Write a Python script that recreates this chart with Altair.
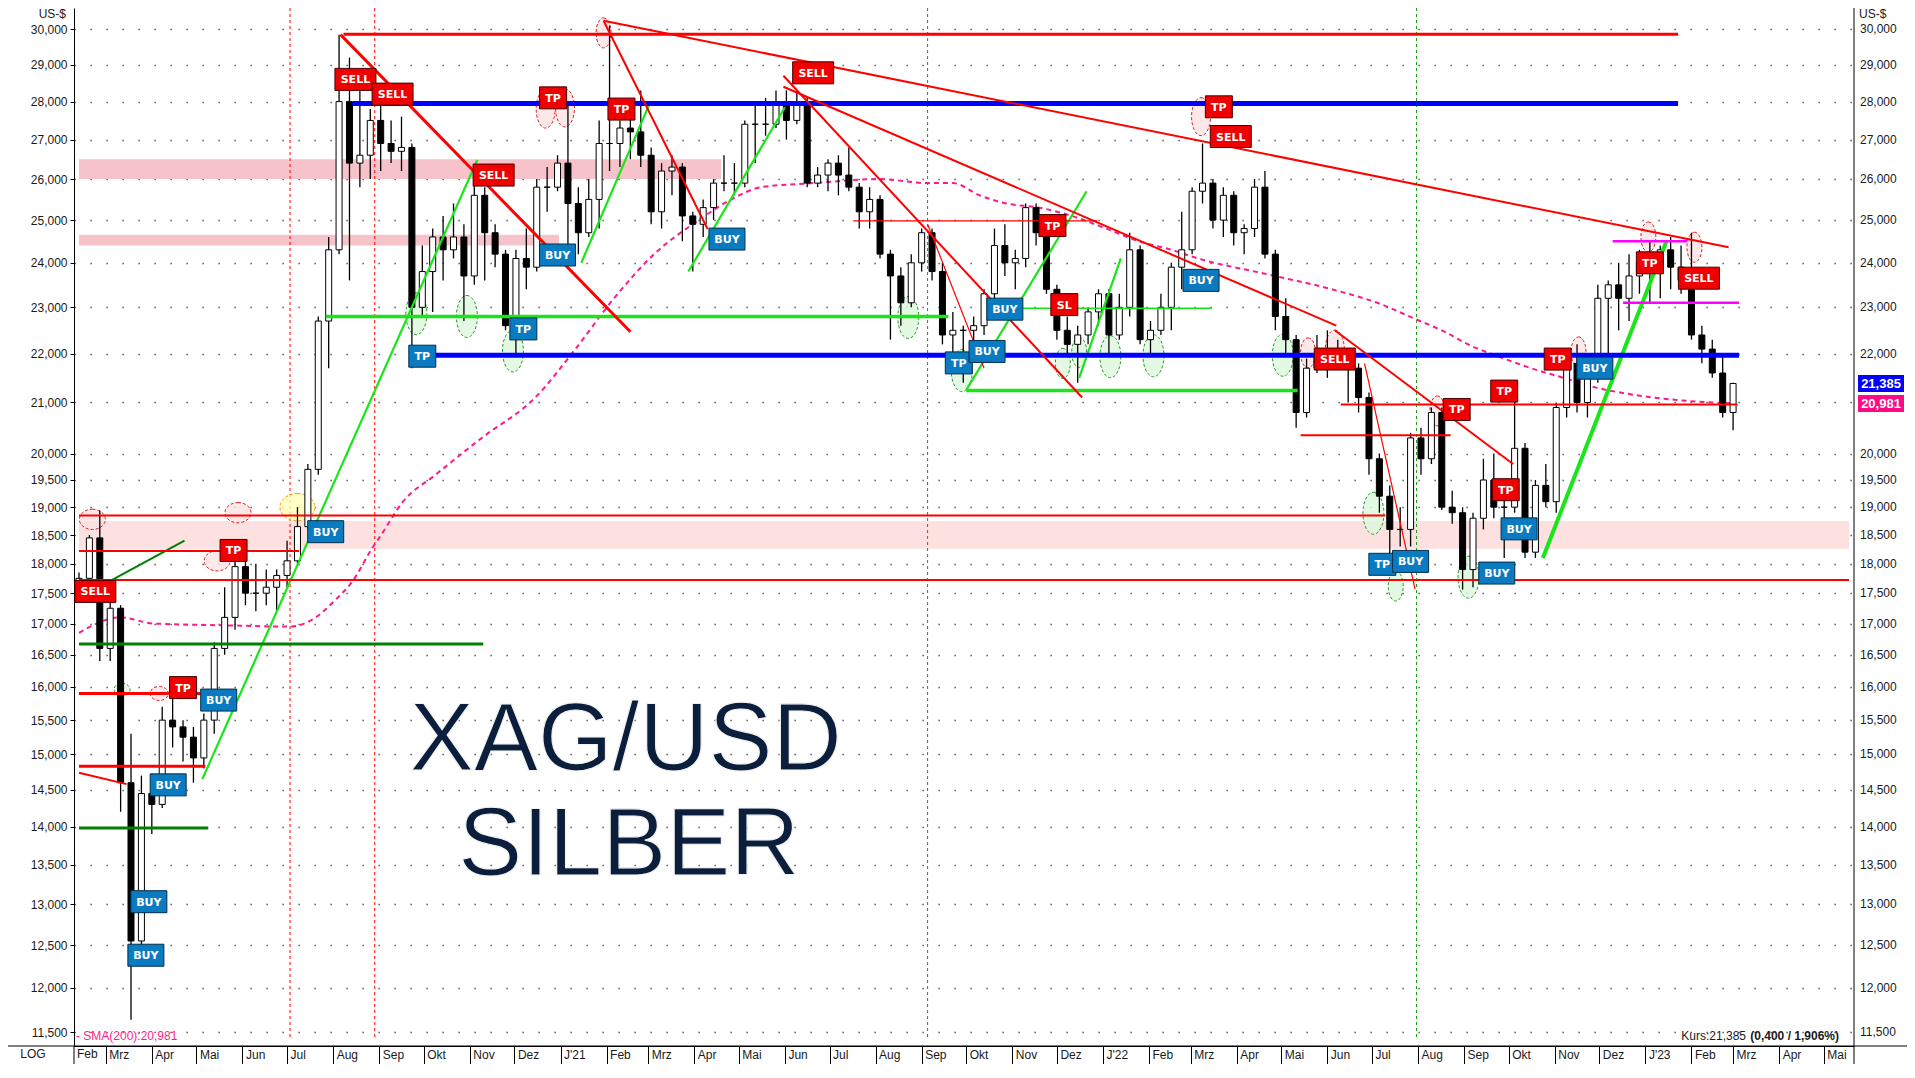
import altair as alt
import pandas as pd

W, H = 1780, 1038
FONT = "Liberation Sans"

# ------------------------------------------------------------------ price data (weekly)
week_start = "2020-02-12"
first_open = 17.60
close = [
    17.75, 18.45, 16.60,
    17.25, 14.60, 12.55, 14.45,
    14.30, 15.50, 15.40, 15.25,
    14.95, 15.50, 16.60, 17.10, 17.95,
    17.50, 17.50, 17.60, 17.80,
    18.05, 18.65, 19.70, 22.70, 24.30,
    28.00, 26.40, 26.60, 27.50,
    26.90, 26.70, 26.80, 23.00,
    23.80, 24.60, 24.30, 24.60, 23.70,
    25.60, 24.70, 24.20, 22.60,
    24.10, 23.90, 25.80, 25.80,
    26.40,
    25.40, 24.70, 25.50, 26.90,
    26.90, 27.30, 27.20, 26.60,
    25.20, 26.20, 26.30, 25.10,
    24.90, 25.30, 25.90, 25.90, 25.90,
    27.40, 27.40, 27.40, 27.90,
    27.50, 28.00, 25.90, 26.10,
    26.40, 26.10, 25.80, 25.20, 25.50,
    24.20, 23.70, 23.10, 24.00,
    24.70, 23.80, 22.40, 22.50,
    22.50, 22.60, 23.30, 24.40, 24.00,
    24.10, 25.30, 24.70, 23.40,
    22.50, 22.20, 22.40, 22.90, 23.30,
    22.40, 23.00, 24.30, 22.30,
    22.50, 23.00, 23.90, 24.30,
    25.70, 25.90, 25.00, 25.60,
    24.70, 24.80, 25.80, 24.20, 22.80,
    22.30, 20.80, 21.70, 22.00,
    22.10, 21.80, 21.70, 21.10,
    19.90, 19.20, 18.60, 18.60, 20.30,
    19.90, 20.80, 19.00, 18.90,
    17.90, 18.80, 19.50, 19.00, 19.00,
    20.10, 18.20, 19.40, 19.10,
    20.90, 21.80, 21.00, 21.50,
    23.20, 23.50, 23.20, 23.70, 24.00,
    23.80, 24.30, 23.90, 23.60,
    22.40, 22.10, 21.60, 20.80,
    21.385,
]
high = [
    17.85, 18.50, 18.94,
    17.45, 17.30, 15.30, 14.70,
    14.60, 15.70, 16.00, 15.50,
    15.40, 15.60, 16.70, 17.60, 18.10,
    18.35, 18.00, 17.90, 17.90,
    18.40, 19.00, 19.80, 22.80, 24.60,
    29.85, 29.20, 28.30, 27.80,
    28.00, 27.50, 27.60, 26.90,
    24.40, 24.80, 25.10, 25.40, 24.90,
    25.90, 25.80, 24.90, 24.30,
    24.30, 24.80, 26.00, 26.30,
    26.60,
    27.90, 25.80, 26.00, 27.50,
    30.10, 27.50, 28.00, 28.30,
    26.80, 26.40, 26.60, 26.40,
    25.20, 25.50, 26.00, 26.60, 26.40,
    27.50, 28.00, 28.10, 28.30,
    28.30, 28.30, 28.10, 26.30,
    26.50, 26.60, 26.80, 25.90, 25.80,
    25.60, 24.30, 23.90, 24.20,
    24.80, 24.80, 24.00, 22.90,
    22.60, 22.80, 23.40, 24.80, 24.90,
    24.30, 25.40, 25.40, 25.00,
    23.50, 22.80, 22.60, 23.00, 23.40,
    23.40, 23.30, 24.70, 24.40,
    22.70, 23.30, 24.00, 25.20,
    25.80, 26.90, 26.00, 25.80,
    25.70, 24.90, 26.00, 26.20, 24.30,
    23.20, 22.40, 21.90, 22.40,
    22.50, 22.30, 22.00, 21.80,
    21.20, 20.00, 19.40, 19.00, 20.40,
    20.50, 20.90, 20.90, 19.30,
    19.00, 18.90, 19.90, 20.00, 19.30,
    21.20, 20.20, 19.50, 19.80,
    21.00, 22.00, 22.20, 21.60,
    23.50, 23.60, 24.00, 24.20, 24.30,
    24.50, 24.40, 24.60, 24.40,
    24.70, 22.60, 22.30, 22.00,
    21.40,
]
low = [
    17.40, 17.70, 16.40,
    16.40, 14.20, 11.64, 12.50,
    13.90, 14.25, 15.10, 14.90,
    14.60, 14.80, 15.30, 16.50, 16.90,
    17.30, 17.20, 17.30, 17.20,
    17.60, 18.00, 18.60, 19.60, 21.70,
    24.20, 23.60, 25.80, 26.00,
    26.20, 26.40, 26.20, 21.70,
    22.80, 22.90, 23.60, 24.10, 22.70,
    23.50, 23.60, 23.90, 22.50,
    22.00, 23.40, 23.80, 25.20,
    25.70,
    24.40, 24.20, 24.60, 24.80,
    26.20, 26.30, 26.50, 26.30,
    24.90, 24.80, 25.60, 24.50,
    23.80, 24.60, 25.00, 25.70, 25.60,
    25.80, 26.40, 27.10, 27.30,
    27.00, 27.40, 25.80, 25.80,
    25.70, 25.60, 25.70, 24.80, 24.80,
    24.10, 22.30, 22.60, 23.00,
    23.80, 23.60, 22.20, 22.00,
    21.40, 22.20, 22.40, 23.10, 23.70,
    23.40, 23.90, 24.40, 23.30,
    22.30, 22.00, 21.40, 22.20, 22.60,
    22.00, 22.30, 22.80, 22.20,
    22.00, 22.40, 22.50, 23.40,
    24.20, 25.40, 24.80, 24.60,
    24.40, 24.20, 24.60, 24.10, 22.50,
    22.00, 20.50, 20.70, 21.60,
    21.50, 21.70, 21.00, 20.80,
    19.60, 18.90, 18.15, 18.30, 18.30,
    19.60, 19.80, 18.95, 18.70,
    17.56, 17.60, 18.60, 18.80, 18.10,
    18.90, 18.10, 18.10, 19.00,
    18.90, 20.70, 20.80, 20.70,
    21.40, 22.00, 22.50, 22.70, 23.30,
    23.10, 23.20, 23.40, 23.30,
    22.30, 21.80, 21.50, 20.70,
    20.45,
]

# 200-day moving average
sma_dates = ["2020-02-12", "2020-03-11", "2020-04-02", "2020-05-21", "2020-07-03", "2020-07-17",
             "2020-08-03", "2020-08-14", "2020-08-28", "2020-09-01", "2020-09-17", "2020-10-09",
             "2020-11-09", "2020-12-15", "2021-01-11", "2021-02-06", "2021-03-05", "2021-04-04",
             "2021-04-26", "2021-05-16", "2021-06-20", "2021-08-04", "2021-09-05", "2021-09-22",
             "2021-10-10", "2021-10-28", "2021-11-19", "2021-12-11", "2022-01-03", "2022-01-25",
             "2022-02-16", "2022-03-06", "2022-04-20", "2022-06-04", "2022-07-07", "2022-07-29",
             "2022-08-20", "2022-09-01", "2022-09-28", "2022-10-16", "2022-11-07", "2022-11-29",
             "2022-12-21", "2023-01-22", "2023-03-03"]
sma_values = [16.85, 17.10, 17.00, 16.97, 16.95, 17.05, 17.40, 17.70, 18.30, 18.45, 19.10, 19.60,
              20.30, 21.10, 22.10, 23.20, 24.20, 25.00, 25.50, 25.80, 25.90, 26.00, 25.90, 25.90,
              25.60, 25.40, 25.30, 25.10, 24.80, 24.50, 24.30, 24.10, 23.75, 23.40, 23.07, 22.76,
              22.45, 22.24, 21.90, 21.70, 21.50, 21.30, 21.17, 21.05, 20.98]

# drawn trend / support lines: (start, price, end, price, style)
segments = [
    ("2020-02-12", 18.85, "2022-07-10", 18.85, "red2"),
    ("2020-02-12", 18.22, "2020-07-09", 18.22, "red2"),
    ("2020-02-12", 17.72, "2023-05-18", 17.72, "red2"),
    ("2020-02-12", 16.67, "2020-11-10", 16.67, "dgreen3"),
    ("2020-02-12", 13.98, "2020-05-09", 13.98, "dgreen3"),
    ("2020-03-05", 17.72, "2020-04-23", 18.40, "dgreen2"),
    ("2020-05-05", 14.65, "2020-11-06", 26.48, "lime2"),
    ("2020-07-27", 22.80, "2021-09-19", 22.80, "lime3"),
    ("2021-01-15", 24.00, "2021-03-02", 27.95, "lime2"),
    ("2021-03-28", 23.80, "2021-06-01", 27.85, "lime2"),
    ("2021-11-01", 22.98, "2022-03-15", 22.98, "lime1"),
    ("2021-10-01", 21.24, "2022-05-12", 21.24, "lime3"),
    ("2021-10-01", 21.25, "2021-12-21", 25.70, "lime2"),
    ("2021-12-16", 21.50, "2022-01-13", 24.10, "lime2"),
    ("2022-10-24", 18.10, "2023-01-15", 24.49, "lime4"),
    ("2020-08-14", 27.95, "2023-01-23", 27.95, "blue5"),
    ("2020-09-30", 21.97, "2023-03-05", 21.97, "blue5"),
    ("2020-08-08", 29.86, "2023-01-23", 29.86, "red3"),
    ("2020-08-06", 29.85, "2021-02-17", 22.47, "red3"),
    ("2020-02-12", 15.90, "2020-05-19", 15.90, "red3"),
    ("2020-02-12", 14.83, "2020-05-07", 14.83, "red3"),
    ("2020-02-12", 14.74, "2020-03-15", 14.58, "red2"),
    ("2021-01-30", 30.25, "2021-04-10", 24.79, "red2"),
    ("2021-01-30", 30.25, "2023-02-26", 24.36, "red2"),
    ("2021-05-31", 28.70, "2021-12-18", 21.10, "red2"),
    ("2021-05-31", 28.40, "2022-06-07", 22.60, "red2"),
    ("2021-09-05", 24.90, "2021-10-13", 21.70, "red1"),
    ("2021-07-17", 24.98, "2021-12-28", 24.98, "red1"),
    ("2022-06-06", 22.50, "2022-10-04", 19.80, "red2"),
    ("2022-06-26", 21.80, "2022-07-30", 17.57, "red1"),
    ("2022-06-10", 20.96, "2023-03-04", 20.96, "red2"),
    ("2022-05-14", 20.35, "2022-08-23", 20.35, "red2"),
    ("2022-12-10", 24.50, "2023-01-29", 24.50, "mag"),
    ("2022-12-17", 23.10, "2023-03-05", 23.10, "mag"),
]

# shaded zones: (from, to, low price, high price, kind)
bands = [
    ("2020-02-12", "2021-04-19", 26.00, 26.50, "pink"),
    ("2020-02-12", "2020-12-31", 24.40, 24.65, "pink"),
    ("2020-02-12", "2023-05-18", 18.26, 18.75, "light"),
]

# dotted vertical markers
vlines = [("2020-07-03", "r"), ("2020-08-29", "r"), ("2021-09-05", "g"), ("2022-07-31", "g")]

# circled highs / lows: (date, price, kind)
ellipses = [
    ("2020-02-21", 18.78, "hiR"), ("2020-04-06", 15.90, "hiR2"), ("2020-05-15", 18.05, "hiR"),
    ("2020-05-29", 18.90, "hiR"), ("2020-07-08", 19.00, "yel"), ("2020-12-22", 27.80, "hiT"),
    ("2021-01-04", 27.83, "hiT"), ("2021-01-30", 29.90, "hiS"), ("2022-03-08", 27.60, "hiT"),
    ("2022-05-19", 22.02, "hiS"), ("2022-06-06", 22.10, "hiT"), ("2022-08-14", 20.83, "hiS"),
    ("2022-11-17", 22.04, "hiS"), ("2023-01-03", 24.60, "hiS"), ("2023-02-03", 24.36, "hiS"),
    ("2020-03-12", 15.96, "loR"), ("2020-09-26", 22.86, "loT"), ("2020-10-30", 22.80, "loT"),
    ("2020-11-30", 22.06, "loT"), ("2021-08-23", 22.78, "loT"), ("2021-09-28", 21.65, "loT"),
    ("2021-12-05", 21.80, "loS"), ("2021-12-16", 22.03, "loS"), ("2022-01-06", 21.94, "loT"),
    ("2022-02-04", 21.96, "loT"), ("2022-05-02", 21.97, "loT"), ("2022-07-02", 18.89, "loT"),
    ("2022-07-17", 17.62, "loS"), ("2022-09-04", 17.77, "loT"),
]

# signal boxes: (date, price, text, colour group)
labels = [
    ("2020-02-23", 17.53, "SELL", "r"), ("2020-04-22", 15.99, "TP", "r"),
    ("2020-05-16", 15.80, "BUY", "b"), ("2020-04-12", 14.57, "BUY", "b"),
    ("2020-03-30", 13.03, "BUY", "b"), ("2020-03-28", 12.38, "BUY", "b"),
    ("2020-05-26", 18.23, "TP", "r"), ("2020-07-27", 18.56, "BUY", "b"),
    ("2020-08-16", 28.60, "SELL", "r"), ("2020-09-10", 28.20, "SELL", "r"),
    ("2020-09-30", 21.95, "TP", "b"), ("2020-12-07", 22.53, "TP", "b"),
    ("2020-11-17", 26.10, "SELL", "r"), ("2020-12-30", 24.18, "BUY", "b"),
    ("2020-12-27", 28.10, "TP", "r"), ("2021-02-11", 27.80, "TP", "r"),
    ("2021-04-23", 24.55, "BUY", "b"), ("2021-06-20", 28.78, "SELL", "r"),
    ("2021-09-26", 21.81, "TP", "b"), ("2021-10-15", 22.05, "BUY", "b"),
    ("2021-10-27", 22.96, "BUY", "b"), ("2021-11-28", 24.87, "TP", "r"),
    ("2021-12-06", 23.06, "SL", "r"), ("2022-03-08", 23.60, "BUY", "b"),
    ("2022-03-20", 27.86, "TP", "r"), ("2022-03-28", 27.08, "SELL", "r"),
    ("2022-06-06", 21.89, "SELL", "r"), ("2022-08-27", 20.86, "TP", "r"),
    ("2022-09-28", 21.23, "TP", "r"), ("2022-09-29", 19.32, "TP", "r"),
    ("2022-07-08", 17.99, "TP", "b"), ("2022-07-27", 18.04, "BUY", "b"),
    ("2022-10-08", 18.61, "BUY", "b"), ("2022-09-23", 17.84, "BUY", "b"),
    ("2022-11-03", 21.89, "TP", "r"), ("2022-11-28", 21.70, "BUY", "b"),
    ("2023-01-04", 24.00, "TP", "r"), ("2023-02-06", 23.65, "SELL", "r"),
]

# last values shown on the right axis
last_values = [("21,385", 21.385, "blue"), ("20,981", 20.981, "pink")]

# big title
big_text = [("XAG/USD", "2021-02-14", 14.78), ("SILBER", "2021-02-16", 13.37)]

yticks = [11.5, 12, 12.5, 13, 13.5, 14, 14.5, 15, 15.5, 16, 16.5, 17, 17.5, 18, 18.5, 19, 19.5,
          20, 21, 22, 23, 24, 25, 26, 27, 28, 29, 30]
# right-hand labels (21,000 sits under the last-value box there)
yticks_right = [v for v in yticks if v != 21]
month_ticks = pd.date_range("2020-03-01", "2023-05-01", freq="MS")

# ------------------------------------------------------------------ tables
dates = pd.date_range(week_start, periods=len(close), freq="7D").strftime("%Y-%m-%d")
opens = [first_open] + close[:-1]
price_df = pd.DataFrame({"date": dates, "open": opens, "high": high, "low": low, "close": close})
sma_df = pd.DataFrame({"date": sma_dates, "sma": sma_values})
seg_df = pd.DataFrame(segments, columns=["d1", "p1", "d2", "p2", "style"])
band_df = pd.DataFrame(bands, columns=["d1", "d2", "lo", "hi", "kind"])
vline_df = pd.DataFrame(vlines, columns=["d", "kind"])
ell_df = pd.DataFrame(ellipses, columns=["d", "p", "kind"])
lab_df = pd.DataFrame(labels, columns=["d", "p", "txt", "grp"])
last_df = pd.DataFrame(last_values, columns=["txt", "p", "kind"])
big_df = pd.DataFrame(big_text, columns=["txt", "d", "p"])
ytick_df = pd.DataFrame({"v": yticks_right})
one = pd.DataFrame({"k": [0]})

# ------------------------------------------------------------------ scales / axes
xdomain = [alt.DateTime(year=2020, month=2, date=12, utc=True),
           alt.DateTime(year=2023, month=5, date=18, utc=True)]
xscale = alt.Scale(type="utc", domain=xdomain)
yscale = alt.Scale(type="log", domain=[11.351, 30.62], nice=False)

MONTH_EXPR = ("utcmonth(datum.value) == 0 ? \"J'\" + utcFormat(datum.value, '%y') : "
              "['Jan','Feb','Mrz','Apr','Mai','Jun','Jul','Aug','Sep','Okt','Nov','Dez'][utcmonth(datum.value)]")
PRICE_EXPR = "replace(format(datum.value, '.3f'), '.', ',')"

xaxis = alt.Axis(
    values=[alt.DateTime(year=d.year, month=d.month, date=1, utc=True) for d in month_ticks],
    labelExpr=MONTH_EXPR, tickSize=18, tickColor="#000", tickWidth=1, domainColor="#000",
    labelAlign="left", labelBaseline="top", labelPadding=-15, labelOffset=3, labelFontSize=12,
    labelFont=FONT, labelColor="#1a1a1a", labelOverlap=False, labelFlush=False, grid=False, title=None)
yaxis = alt.Axis(
    values=yticks, labelExpr=PRICE_EXPR, orient="left", tickSize=4, tickColor="#000",
    domainColor="#000", labelPadding=3, labelFontSize=12, labelFont=FONT, labelColor="#1a1a1a",
    grid=True, gridColor="#333", gridDash=[1.2, 14.8], gridWidth=1.3, title=None, labelOverlap=False)


def X(f):
    return alt.X(f, type="temporal", scale=xscale, axis=xaxis)


def Y(f):
    return alt.Y(f, type="quantitative", scale=yscale, axis=yaxis)


layers = []

# shaded zones
for kind, col in {"pink": "#f7c3ca", "light": "#fde0e0"}.items():
    layers.append(alt.Chart(band_df).transform_filter(alt.datum.kind == kind)
                  .mark_rect(color=col, opacity=1)
                  .encode(x=X("d1"), x2=alt.X2("d2"), y=Y("lo"), y2=alt.Y2("hi")))

# dotted vertical markers
layers.append(alt.Chart(vline_df).mark_rule(strokeDash=[3, 3], strokeWidth=1).encode(
    x=X("d"), y=alt.value(0), y2=alt.value(H - 6),
    color=alt.Color("kind:N", scale=alt.Scale(domain=["r", "g"], range=["#ff0000", "#1a9a1a"]), legend=None)))

# ellipses
TALL = "M0,-1C0.276,-1,0.5,-0.552,0.5,0C0.5,0.552,0.276,1,0,1C-0.276,1,-0.5,0.552,-0.5,0C-0.5,-0.552,-0.276,-1,0,-1Z"
ROUND = "M0,-0.78C0.552,-0.78,1,-0.431,1,0C1,0.431,0.552,0.78,0,0.78C-0.552,0.78,-1,0.431,-1,0C-1,-0.431,-0.552,-0.78,0,-0.78Z"
ell_styles = {
    "hiT": (TALL, 1444, "#fbe1e4", "#e02020"),
    "hiS": (TALL, 900, "#fbe1e4", "#e02020"),
    "hiR": (ROUND, 676, "#fbe1e4", "#e02020"),
    "hiR2": (ROUND, 324, "#fbe1e4", "#e02020"),
    "yel": (ROUND, 1225, "#ffffb8", "#ff9900"),
    "loT": (TALL, 1764, "#dcf7dc", "#2a9a2a"),
    "loS": (TALL, 900, "#dcf7dc", "#2a9a2a"),
    "loR": (ROUND, 256, "#dcf7dc", "#2a9a2a"),
}
for kind, (shape, size, fill, stroke) in ell_styles.items():
    layers.append(alt.Chart(ell_df).transform_filter(alt.datum.kind == kind)
                  .mark_point(shape=shape, size=size, filled=True, fill=fill, fillOpacity=0.8,
                              stroke=stroke, strokeWidth=1, strokeDash=[3, 2], opacity=1)
                  .encode(x=X("d"), y=Y("p")))

# SMA 200
layers.append(alt.Chart(sma_df).mark_line(color="#ff1a8c", strokeDash=[5, 4], strokeWidth=2,
                                          interpolate="monotone")
              .encode(x=X("date"), y=Y("sma")))

# candles
layers.append(alt.Chart(price_df).mark_rule(color="#000", strokeWidth=1.3, clip=True)
              .encode(x=X("date"), y=Y("low"), y2=alt.Y2("high")))
layers.append(alt.Chart(price_df).mark_bar(size=6, stroke="#000", strokeWidth=1, clip=True)
              .encode(x=X("date"), y=Y("open"), y2=alt.Y2("close"),
                      fill=alt.condition("datum.close >= datum.open", alt.value("white"), alt.value("black"))))

# trend lines
seg_styles = {
    "lime1": ("#19e619", 1.5), "lime2": ("#19e619", 2.2), "lime3": ("#19e619", 3.5),
    "lime4": ("#19e619", 4), "dgreen2": ("#008000", 2), "dgreen3": ("#008000", 3),
    "blue5": ("#0000ff", 5), "red1": ("#ff0000", 1.2), "red2": ("#ff0000", 2),
    "red3": ("#ff0000", 3), "mag": ("#ff00ff", 2.5),
}
for style, (col, wdt) in seg_styles.items():
    layers.append(alt.Chart(seg_df).transform_filter(alt.datum.style == style)
                  .mark_rule(color=col, strokeWidth=wdt)
                  .encode(x=X("d1"), x2=alt.X2("d2"), y=Y("p1"), y2=alt.Y2("p2")))


# signal boxes
def box(w, h):
    b = h / w
    return f"M-1,-{b:.3f}L1,-{b:.3f}L1,{b:.3f}L-1,{b:.3f}Z"


grp_fill = alt.Scale(domain=["r", "b"], range=["#f00000", "#0a7bc0"])
grp_stroke = alt.Scale(domain=["r", "b"], range=["#4a0000", "#002f4d"])
for kind, w in [("SELL", 41), ("TP", 27), ("SL", 27), ("BUY", 36)]:
    layers.append(alt.Chart(lab_df).transform_filter(alt.datum.txt == kind)
                  .mark_point(shape=box(w, 22), size=w * w, filled=True, opacity=1,
                              strokeWidth=1, clip=True)
                  .encode(x=X("d"), y=Y("p"),
                          fill=alt.Fill("grp:N", scale=grp_fill, legend=None),
                          stroke=alt.Stroke("grp:N", scale=grp_stroke, legend=None)))
layers.append(alt.Chart(lab_df).mark_text(color="white", font="DejaVu Sans", fontWeight="bold",
                                          fontSize=11, dy=1, clip=True)
              .encode(x=X("d"), y=Y("p"), text="txt:N"))

# big title
layers.append(alt.Chart(big_df).mark_text(font=FONT, fontSize=96, align="center", baseline="alphabetic",
                                          fill="#0b1e3b", stroke="#f2f2f2", strokeWidth=1.2)
              .encode(x=X("d"), y=Y("p"), text="txt:N"))

# right axis labels
layers.append(alt.Chart(ytick_df).transform_calculate(lbl="replace(format(datum.v, '.3f'), '.', ',')")
              .mark_text(align="left", baseline="middle", font=FONT, fontSize=12, color="#1a1a1a")
              .encode(x=alt.value(W + 6), y=Y("v"), text="lbl:N"))

# last value boxes on the right axis
for kind, col in {"blue": "#0000ff", "pink": "#ff0a84"}.items():
    sub = alt.Chart(last_df).transform_filter(alt.datum.kind == kind)
    layers.append(sub.mark_point(shape=box(44, 15), size=44 * 44, filled=True, fill=col,
                                 stroke=col, opacity=1)
                  .encode(x=alt.value(W + 27), y=Y("p")))
    layers.append(sub.mark_text(color="white", font=FONT, fontWeight="bold", fontSize=13, dy=1)
                  .encode(x=alt.value(W + 27), y=Y("p"), text="txt:N"))

# frame lines
layers.append(alt.Chart(one).mark_rule(color="#000", strokeWidth=1)
              .encode(x=alt.value(-66), x2=alt.value(W + 53), y=alt.value(H)))
layers.append(alt.Chart(one).mark_rule(color="#000", strokeWidth=1)
              .encode(x=alt.value(0), y=alt.value(H), y2=alt.value(H + 18)))
layers.append(alt.Chart(one).mark_rule(color="#000", strokeWidth=1)
              .encode(x=alt.value(W), y=alt.value(0), y2=alt.value(H + 18)))


# small texts
def txt(s, x, y, **kw):
    base = dict(font=FONT, fontSize=12, color="#1a1a1a")
    base.update(kw)
    return alt.Chart(pd.DataFrame({"t": [s]})).mark_text(**base).encode(
        x=alt.value(x), y=alt.value(y), text="t:N")


layers.append(txt("US-$", -8, 6, align="right", baseline="middle"))
layers.append(txt("US-$", W + 5, 6, align="left", baseline="middle"))
layers.append(txt("LOG", -41, H + 3, align="center", baseline="top"))
layers.append(txt("Feb", 3, H + 3, align="left", baseline="top"))
layers.append(txt("- SMA(200):20,981", 2, H - 6, align="left", baseline="alphabetic", color="#ff1a8c"))
layers.append(txt("(0,400 / 1,906%)", W - 15, H - 6, align="right", baseline="alphabetic",
                  fontWeight="bold"))
layers.append(txt("Kurs:21,385", W - 108, H - 6, align="right", baseline="alphabetic"))

chart = alt.layer(*layers).properties(
    width=W, height=H,
    autosize=alt.AutoSizeParams(type="none"),
    padding={"left": 66, "top": 0, "right": 53, "bottom": 18},
).configure(font=FONT).configure_view(strokeWidth=0)

chart.save("out.html", embed_options={"renderer": "svg", "actions": False})
